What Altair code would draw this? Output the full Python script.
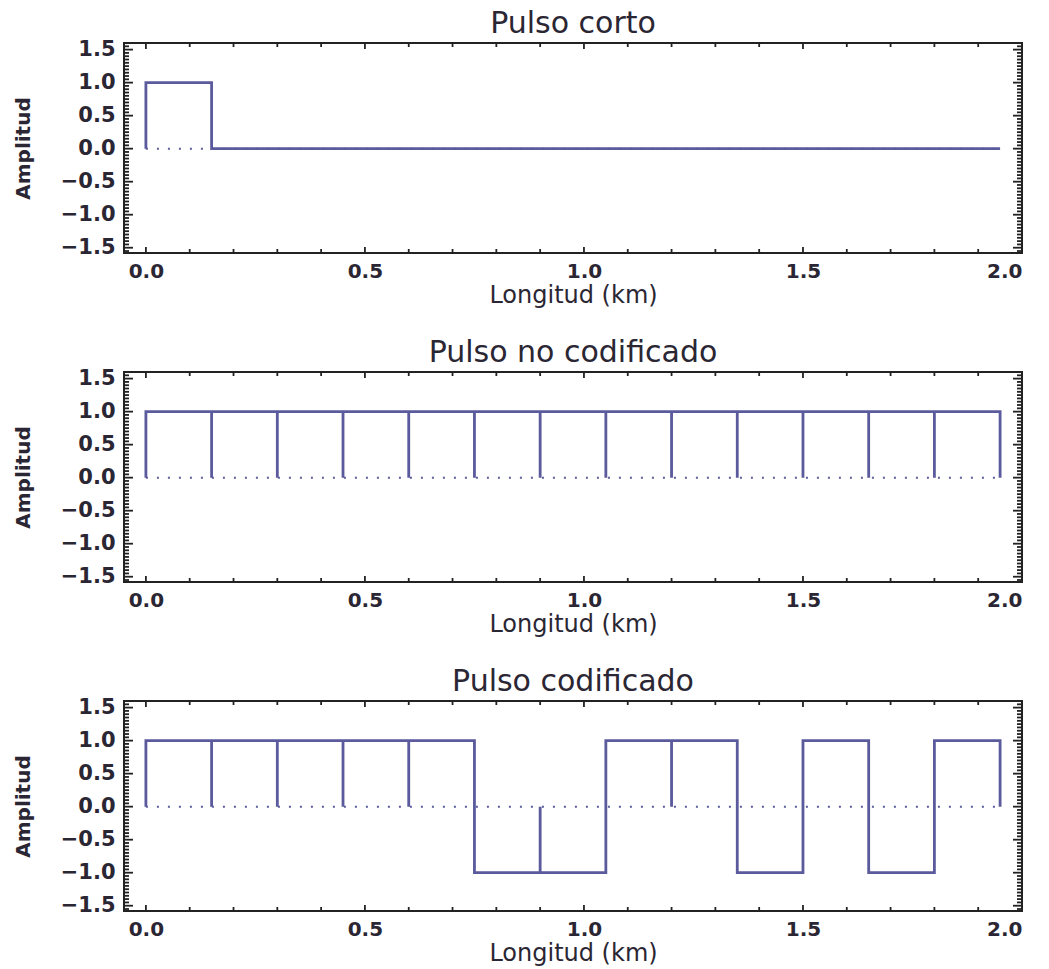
import altair as alt
import numpy as np
import pandas as pd

# Pulse trains: each bit occupies BIT_KM of range
BIT_KM = 0.15
bits_short = [1, 0, 0, 0, 0, 0, 0, 0, 0, 0, 0, 0, 0]
bits_uncoded = [1, 1, 1, 1, 1, 1, 1, 1, 1, 1, 1, 1, 1]
bits_coded = [1, 1, 1, 1, 1, -1, -1, 1, 1, -1, 1, -1, 1]  # Barker 13
panel_titles = ["Pulso corto", "Pulso no codificado", "Pulso codificado"]

x_labels = [0.0, 0.5, 1.0, 1.5, 2.0]
y_labels = [-1.5, -1.0, -0.5, 0.0, 0.5, 1.0, 1.5]
x_minor = [round(v, 2) for v in np.arange(0.0, 2.001, 0.1)]
y_minor = [round(v, 2) for v in np.arange(-1.55, 1.551, 0.05)]

X_DOMAIN = [-0.05, 2.0]
Y_DOMAIN = [-1.58, 1.6]
W, H = 898, 210
LINE = "#5a5a9c"
INK = "#222222"
FONT = "DejaVu Sans"

xs = alt.Scale(domain=X_DOMAIN, nice=False, zero=False)
ys = alt.Scale(domain=Y_DOMAIN, nice=False, zero=False)
x_axis = alt.Axis(values=x_labels, format=".1f", title="Longitud (km)")
y_axis = alt.Axis(values=y_labels, format=".1f", title="Amplitud")


def waveform(bits):
    rows = []
    for k, v in enumerate(bits):
        s, e = k * BIT_KM, (k + 1) * BIT_KM
        for px, py in ((s, 0), (s, v), (e, v), (e, 0)):
            rows.append({"x": round(px, 4), "y": py, "i": len(rows)})
    return pd.DataFrame(rows)


def pick(values, major):
    # major ticks sit on multiples of 0.5
    return [v for v in values if (abs(v * 2 - round(v * 2)) < 1e-6) == major]


def tick_layers():
    layers = []
    for major, ln in ((True, 9), (False, 5)):
        yv = pd.DataFrame({"y": pick(y_minor, major)})
        base = alt.Chart(yv).mark_rule(color=INK, strokeWidth=1.8)
        layers.append(base.encode(y=alt.Y("y:Q", scale=ys, axis=y_axis),
                                  x=alt.value(0), x2=alt.value(ln)))
        layers.append(base.encode(y=alt.Y("y:Q", scale=ys, axis=y_axis),
                                  x=alt.value(W), x2=alt.value(W - ln)))
    for major, ln in ((True, 6), (False, 4)):
        xv = pd.DataFrame({"x": pick(x_minor, major)})
        base = alt.Chart(xv).mark_rule(color=INK, strokeWidth=1.8)
        layers.append(base.encode(x=alt.X("x:Q", scale=xs, axis=x_axis),
                                  y=alt.value(0), y2=alt.value(ln)))
        layers.append(base.encode(x=alt.X("x:Q", scale=xs, axis=x_axis),
                                  y=alt.value(H), y2=alt.value(H - ln)))
    return layers


def panel(bits, title):
    wave = waveform(bits)
    zero = alt.Chart(pd.DataFrame({"x": [0.0], "x2": [len(bits) * BIT_KM], "y": [0.0]})).mark_rule(
        color=LINE, strokeWidth=2, strokeDash=[2, 9]
    ).encode(
        x=alt.X("x:Q", scale=xs, axis=x_axis),
        x2="x2:Q",
        y=alt.Y("y:Q", scale=ys, axis=y_axis),
    )
    line = alt.Chart(wave).mark_line(color=LINE, strokeWidth=2.8, strokeJoin="miter").encode(
        x=alt.X("x:Q", scale=xs, axis=x_axis),
        y=alt.Y("y:Q", scale=ys, axis=y_axis),
        order="i:Q",
    )
    return alt.layer(zero, line, *tick_layers()).properties(
        width=W,
        height=H,
        title=alt.TitleParams(title, fontSize=30, font=FONT, fontWeight="normal",
                              color="#2b2633", offset=0),
    )


chart = alt.vconcat(
    panel(bits_short, panel_titles[0]),
    panel(bits_uncoded, panel_titles[1]),
    panel(bits_coded, panel_titles[2]),
    spacing=28,
).properties(
    padding={"left": 12, "top": 7, "right": 20, "bottom": 5},
    background="white",
).configure_view(
    stroke=INK, strokeWidth=2
).configure_axis(
    domain=False, ticks=False, grid=False,
    labelFont=FONT, labelFontWeight="bold", labelColor="#2b2633",
    titleFont=FONT, titleColor="#2b2633",
).configure_axisX(
    labelFontSize=20, labelPadding=8, titleFontSize=24, titleFontWeight="normal", titlePadding=2,
).configure_axisY(
    labelFontSize=21, labelPadding=9, titleFontSize=20, titleFontWeight="bold", titlePadding=27,
)

chart.save("out.html", embed_options={"renderer": "svg", "actions": False})
